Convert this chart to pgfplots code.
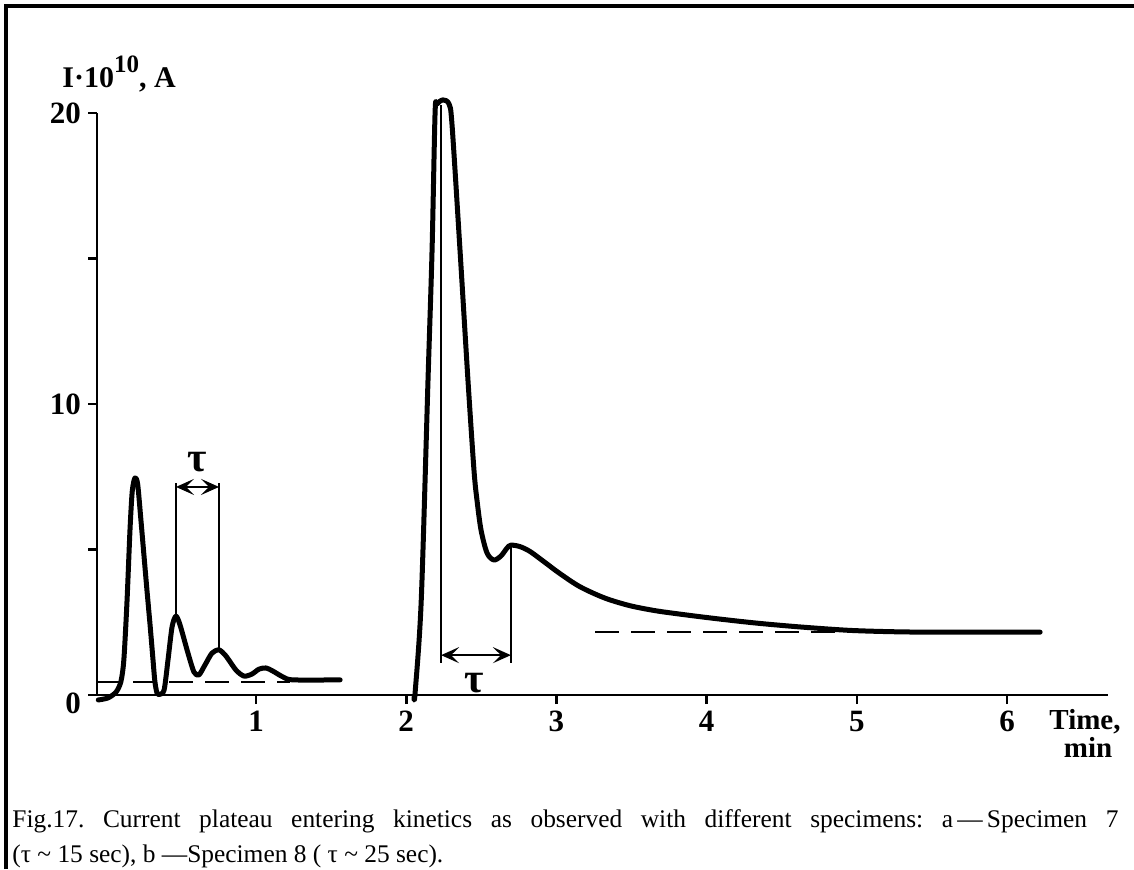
\documentclass[border=0pt]{standalone}
\usepackage{pgfplots}
\pgfplotsset{compat=1.18}
\usepackage{fontspec}
\setmainfont{Liberation Serif}
\usetikzlibrary{arrows.meta}
\begin{document}
\begin{tikzpicture}[x=0.5pt,y=-0.5pt]
\useasboundingbox (0,0) rectangle (1134,869);
\draw[line width=1.75pt] (6,869) -- (6,6) -- (1134,6);
\begin{axis}[
 at={(48.5pt,-347.5pt)}, anchor=south west,
 scale only axis, width=505.5pt, height=291pt,
 xmin=-0.0586, xmax=6.672, ymin=0, ymax=20,
 axis x line=bottom, axis y line=left,
 axis line style={-, line width=1.35pt},
 xtick={1,2,3,4,5,6}, ytick={0,5,10,15,20}, yticklabels={\raisebox{-9pt}[0pt][0pt]{0},,10,,20},
 tick align=outside, major tick length=4.5pt,
 tick style={line width=1.35pt, black},
 ticklabel style={font=\fontsize{15.5}{18}\selectfont\bfseries},
 /pgf/number format/assume math mode=true,
 clip=false,
]
% specimen a
\addplot[line width=2.5pt, smooth, tension=0.45, line cap=round, line join=round] coordinates {
(-0.05,-0.17) (0.015,-0.10) (0.068,0.10) (0.10,0.45) (0.12,1.2) (0.141,3.2) (0.161,5.67)
(0.176,7.0) (0.194,7.46) (0.212,7.25) (0.234,6.0) (0.254,4.8) (0.274,3.6) (0.294,2.45)
(0.312,1.35) (0.326,0.5) (0.34,0.08) (0.356,0.02) (0.388,0.17) (0.414,1.2) (0.441,2.34)
(0.467,2.71) (0.494,2.41) (0.547,1.44)
(0.587,0.79) (0.62,0.69) (0.66,1.03) (0.707,1.44) (0.754,1.55) (0.8,1.34) (0.866,0.86)
(0.92,0.65) (0.973,0.72) (1.02,0.89) (1.067,0.93) (1.113,0.82) (1.18,0.62) (1.247,0.52) (1.56,0.52)
};
% specimen b
\addplot[line width=2.5pt, smooth, tension=0.5, line cap=round, line join=round] coordinates {
(2.052,-0.07) (2.059,0.07) (2.1,3.26) (2.145,10.82) (2.172,15.29) (2.192,20.0) (2.205,20.31)
(2.245,20.45) (2.285,20.31) (2.305,19.59) (2.358,15.29) (2.411,10.82) (2.451,7.73) (2.471,6.70)
(2.498,5.67) (2.538,4.88) (2.584,4.64) (2.631,4.78) (2.671,5.05) (2.697,5.15) (2.757,5.10)
(2.825,4.93) (2.925,4.55) (3.024,4.17) (3.157,3.72) (3.323,3.33) (3.489,3.07) (3.656,2.90)
(3.822,2.78) (3.99,2.67) (4.155,2.57) (4.354,2.46) (4.62,2.34) (4.958,2.22) (5.29,2.17)
(5.6,2.16) (6.22,2.16)
};
% dashed plateau levels
\addplot[line width=0.8pt, dash pattern=on 12pt off 6pt] coordinates {(-0.0586,0.45) (1.227,0.45)};
\addplot[line width=0.8pt, dash pattern=on 12pt off 6pt] coordinates {(3.257,2.16) (5.0,2.16)};
% tau markers a
\addplot[line width=0.75pt] coordinates {(0.467,2.71) (0.467,7.29)};
\addplot[line width=0.75pt] coordinates {(0.754,1.55) (0.754,7.29)};
\addplot[line width=1.2pt, {Stealth[length=9pt,width=8pt,inset=4pt]}-{Stealth[length=9pt,width=8pt,inset=4pt]}] coordinates {(0.467,7.15) (0.754,7.15)};
\node[font=\fontsize{21}{22}\selectfont\bfseries] at (axis cs:0.607,8.0) {τ};
% tau markers b
\addplot[line width=0.75pt] coordinates {(2.232,20.27) (2.232,1.10)};
\addplot[line width=0.75pt] coordinates {(2.697,5.15) (2.697,1.10)};
\addplot[line width=1.2pt, {Stealth[length=9pt,width=8pt,inset=4pt]}-{Stealth[length=9pt,width=8pt,inset=4pt]}] coordinates {(2.232,1.37) (2.697,1.37)};
\node[font=\fontsize{21}{22}\selectfont\bfseries] at (axis cs:2.45,0.40) {τ};
\end{axis}
\node[anchor=base west, inner sep=0, font=\fontsize{15}{17}\selectfont\bfseries] at (62,87) {I·10\raisebox{7.5pt}{\fontsize{12.5}{13}\selectfont 10}, A};
\node[anchor=base, inner sep=0, font=\fontsize{14.5}{16}\selectfont\bfseries] at (1085,729) {Time,};
\node[anchor=base, inner sep=0, font=\fontsize{14.5}{16}\selectfont\bfseries] at (1088,757) {min};
\node[anchor=north west, inner sep=0, text width=553pt, align=justify, font=\fontsize{12.7}{17.5}\selectfont\frenchspacing] at (12,809) {Fig.17. Current plateau entering kinetics as observed with different specimens: a\,—\,Specimen~7\linebreak (τ \textasciitilde{} 15 sec), b —Specimen 8 ( τ \textasciitilde{} 25 sec).};
\end{tikzpicture}
\end{document}
